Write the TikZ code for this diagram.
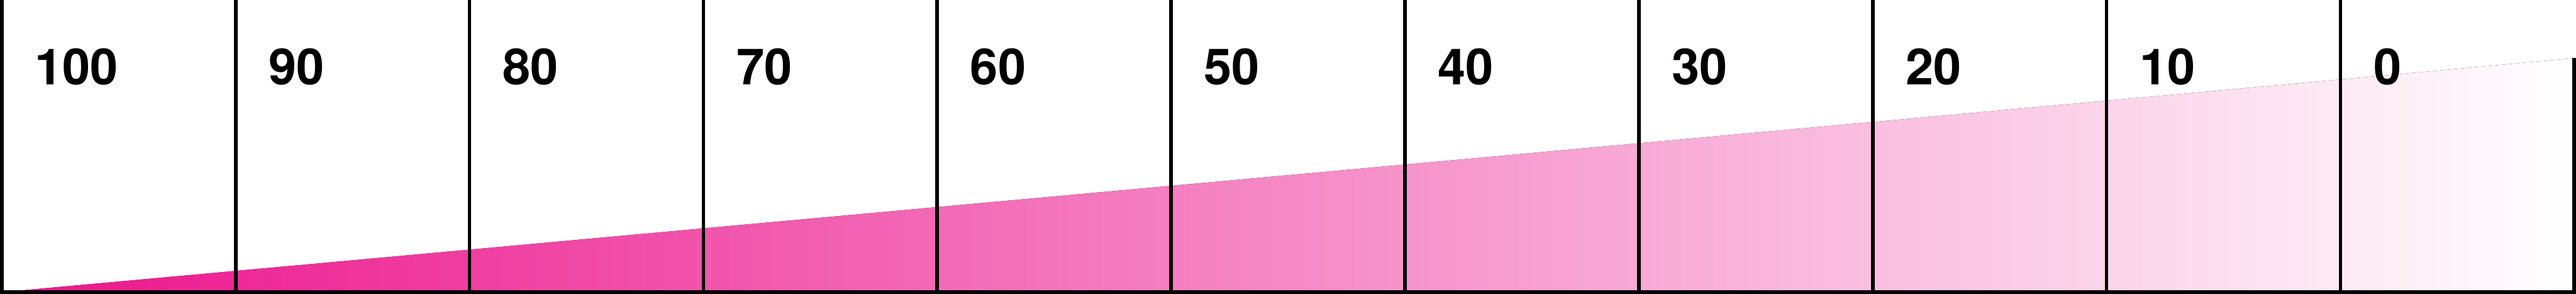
\documentclass[tikz,border=0pt]{standalone}
\usepackage{fontspec}
\setmainfont{TeX Gyre Heros}
\definecolor{rampink}{HTML}{EC148C}
\begin{document}
\begin{tikzpicture}[
        divider/.style={draw=black, line width=0.08cm},
        baseline/.style={draw=black, line width=0.08cm},
        pctlabel/.style={anchor=base west, inner sep=0pt, font=\fontsize{32}{38}\selectfont\bfseries},
        ramp/.style={left color=rampink, right color=white}
    ]

    \useasboundingbox (0,0) rectangle (58.07,6.62);

    % --- Ramp ---
    \coordinate (rampstart) at (0.04,0.04);
    \coordinate (rampend) at (58.03,0.04);
    \coordinate (ramptop) at (58.03,5.31);
    \fill[ramp] (rampstart) -- (ramptop) -- (rampend) -- cycle;

    % --- Columns ---
    \foreach \i in {0,...,10} {
        \coordinate (top\i) at ({0.04+5.272*\i},6.62);
        \coordinate (bot\i) at ({0.04+5.272*\i},0.04);
        \draw[divider] (top\i) -- (bot\i);
        \pgfmathtruncatemacro{\pct}{100-10*\i}
        \node[pctlabel] (lbl\i) at ({0.04+5.272*\i+0.74},4.72) {\pct};
    }
    \draw[divider] (ramptop) -- (rampend);

    % --- Base ---
    \coordinate (baseleft) at (0,0.04);
    \coordinate (baseright) at (58.07,0.04);
    \draw[baseline] (baseleft) -- (baseright);

    \end{tikzpicture}
\end{document}
